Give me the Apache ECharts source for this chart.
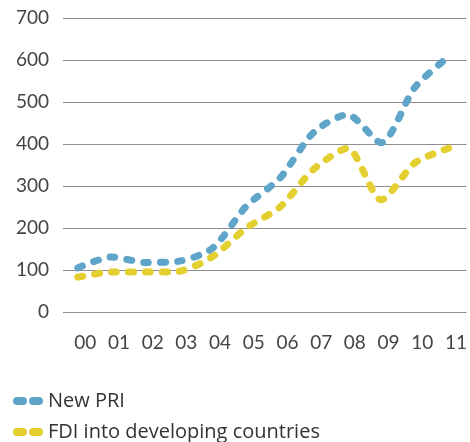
<!DOCTYPE html>
<html>
<head>
<meta charset="utf-8">
<script src="https://cdn.jsdelivr.net/npm/echarts@6/dist/echarts.min.js"></script>
<style>
  html, body { margin: 0; padding: 0; background: #fff; }
  #chart { width: 470px; height: 442px; }
</style>
</head>
<body>
<div id="chart"></div>
<script>
// years 2000..2011, labels shown as two digits
const years = [0, 1, 2, 3, 4, 5, 6, 7, 8, 9, 10, 11];
const yearLabels = ['00', '01', '02', '03', '04', '05', '06', '07', '08', '09', '10', '11'];
const newPri = [105, 131, 118, 121, 152, 252, 319, 428, 470, 403, 535, 608];
const fdi = [83, 95, 95, 97, 132, 200, 250, 340, 390, 267, 355, 390];
const yTicks = [0, 100, 200, 300, 400, 500, 600, 700];

const BLUE = '#5fa5ca';
const YELLOW = '#e4cf30';
const FONT = 'Lato';

const chart = echarts.init(document.getElementById('chart'), null, { renderer: 'canvas' });

const pairs = (vals) => years.map((y, i) => [y, vals[i]]);

const dashedLine = (color) => ({
  color: color,
  width: 7,
  type: [5, 12],
  cap: 'round',
  join: 'round'
});

// capsule pair icon for legend
const legendIcon = 'path://M4,0H10A4,4 0 0 1 10,8H4A4,4 0 0 1 4,0Z M20,0H26A4,4 0 0 1 26,8H20A4,4 0 0 1 20,0Z';

const option = {
  animation: false,
  backgroundColor: '#fff',
  grid: { left: 63, right: 0, top: 18, bottom: 130 },
  legend: {
    orient: 'vertical',
    left: 13,
    top: 390,
    height: 120,
    padding: 0,
    itemWidth: 30,
    itemHeight: 8,
    itemGap: 9,
    icon: legendIcon,
    textStyle: { fontFamily: 'Open Sans', fontSize: 20, lineHeight: 22, color: '#333' },
    data: ['New PRI', 'FDI into developing countries']
  },
  xAxis: {
    type: 'value',
    min: -0.44,
    max: 11.53,
    axisLine: { show: false },
    axisTick: { show: false },
    splitLine: { show: false },
    axisLabel: {
      customValues: years.map(y => y + 0.22),
      formatter: (v) => yearLabels[Math.round(v - 0.22)],
      margin: 21,
      fontFamily: FONT,
      fontSize: 19,
      color: '#444'
    }
  },
  yAxis: {
    type: 'value',
    min: 0,
    max: 700,
    interval: 100,
    axisLine: { show: false },
    axisTick: { show: false },
    splitLine: { lineStyle: { color: '#8e8e8e', width: 1 } },
    axisLabel: {
      customValues: yTicks,
      margin: 14,
      fontFamily: FONT,
      fontSize: 19,
      color: '#444'
    }
  },
  series: [
    {
      name: 'New PRI',
      type: 'line',
      data: pairs(newPri),
      smooth: 0.25,
      showSymbol: false,
      symbol: 'none',
      z: 3,
      itemStyle: { color: BLUE },
      lineStyle: dashedLine(BLUE)
    },
    {
      name: 'FDI into developing countries',
      type: 'line',
      data: pairs(fdi),
      smooth: 0.25,
      showSymbol: false,
      symbol: 'none',
      z: 2,
      itemStyle: { color: YELLOW },
      lineStyle: dashedLine(YELLOW)
    }
  ]
};

chart.setOption(option);
</script>
</body>
</html>
